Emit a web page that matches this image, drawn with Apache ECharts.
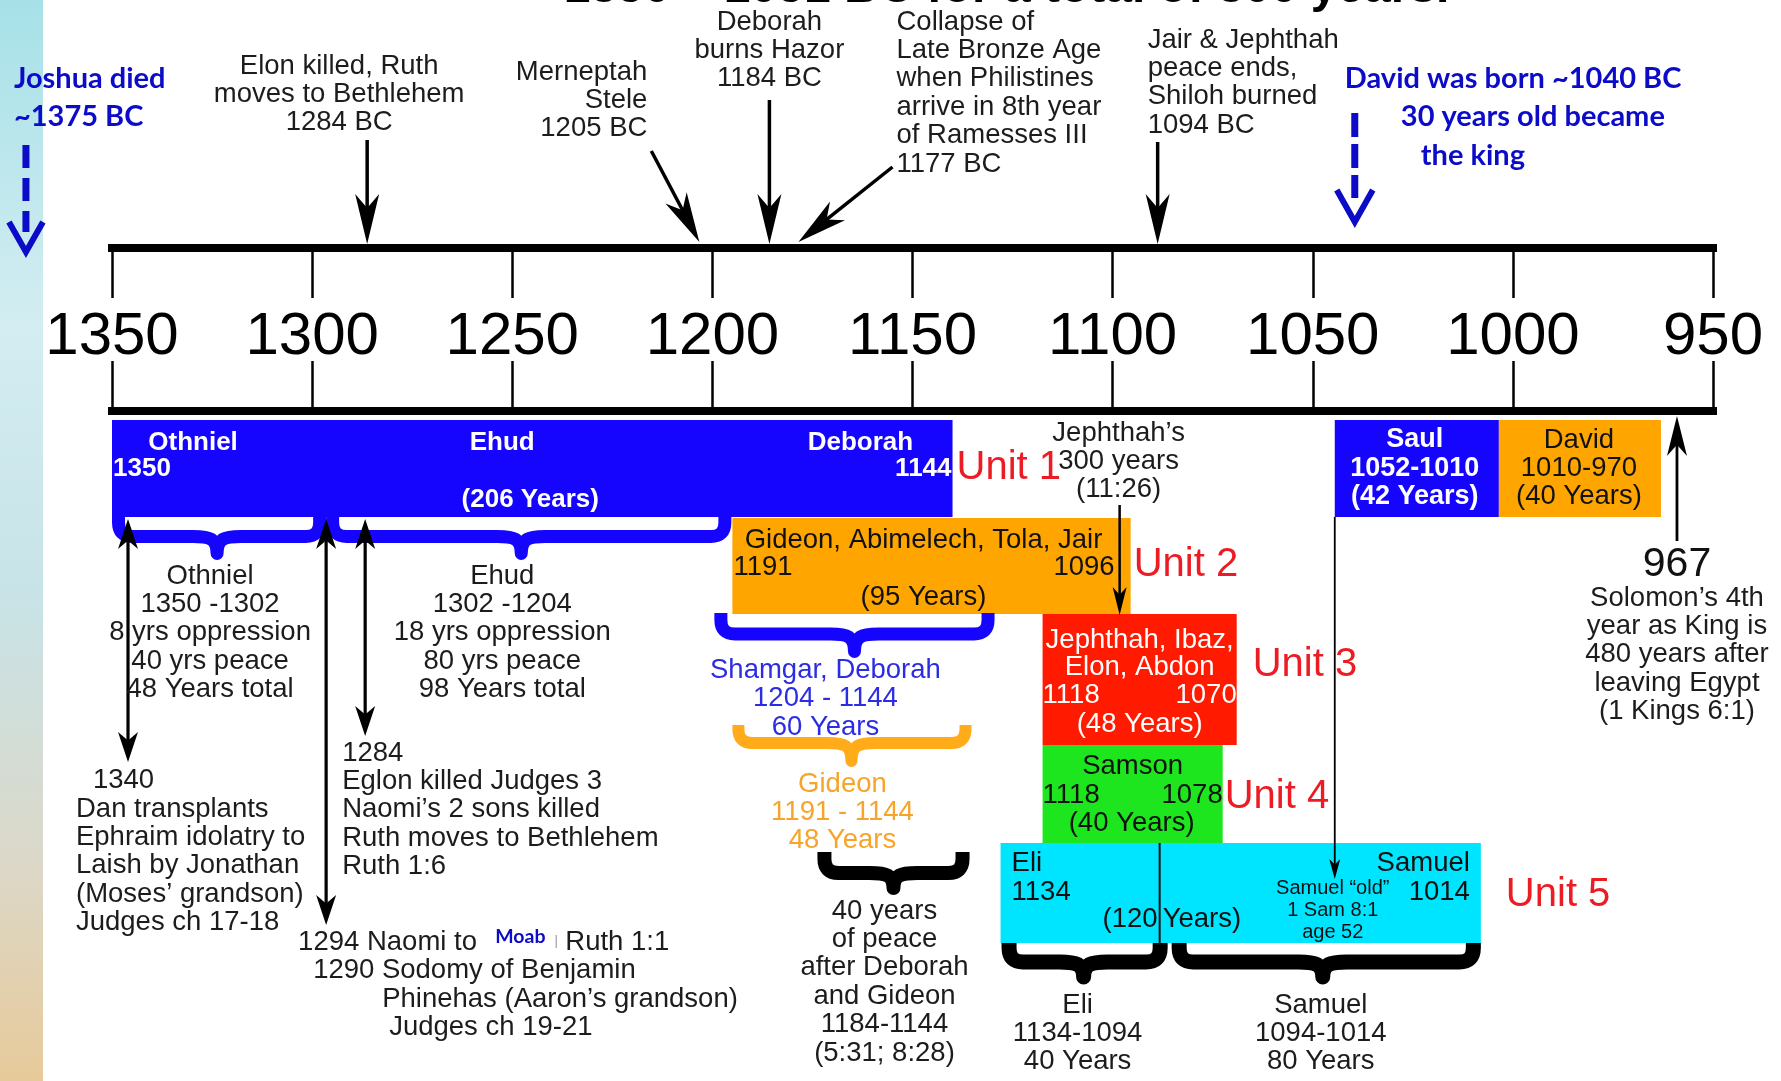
<!DOCTYPE html>
<html>
<head>
<meta charset="utf-8">
<script src="https://cdn.jsdelivr.net/npm/echarts@6/dist/echarts.min.js"></script>
<style>
html,body{margin:0;padding:0;background:#ffffff;}
#main{width:1781px;height:1081px;}
</style>
</head>
<body>
<div id="main"></div>
<script>
// ================= DATA (years BC) =================
const tickYears = [1350, 1300, 1250, 1200, 1150, 1100, 1050, 1000, 950];
const titleText = '1350 – 1051 BC for a total of 300 years.';

// period blocks, as drawn on the timeline
const blockNames = ['Othniel / Ehud / Deborah', 'Gideon, Abimelech, Tola, Jair', 'Jephthah, Ibaz, Elon, Abdon', 'Samson', 'Eli / Samuel', 'Saul', 'David'];
const blockFrom  = [1350, 1195, 1117.5, 1117.5, 1128, 1044.5, 1003.5];
const blockTo    = [1140, 1095.5, 1069, 1072.5, 1008, 1003.5, 963];

const blockLabelText = [
  'Othniel', '1350', 'Ehud', '(206 Years)', 'Deborah', '1144',
  'Gideon, Abimelech, Tola, Jair', '1191', '1096', '(95 Years)',
  'Jephthah, Ibaz,\nElon, Abdon', '1118', '1070', '(48 Years)',
  'Samson', '1118', '1078', '(40 Years)',
  'Eli\n1134', '(120', 'Years)', 'Samuel\n1014', 'Samuel “old”\n1 Sam 8:1\nage 52',
  'Saul\n1052-1010\n(42 Years)', 'David\n1010-970\n(40 Years)'
];
const blockLabelYear = [
  1329.75, 1349.75, 1252.5, 1245.5, 1163, 1140.25,
  1147.25, 1194.75, 1099.5, 1147.25,
  1093.25, 1117.5, 1069, 1093.25,
  1095, 1117.5, 1072.5, 1095.25,
  1125.25, 1088.75, 1087.5, 1010.75, 1045,
  1024.5, 983.5
];

const unitText = ['Unit 1', 'Unit 2', 'Unit 3', 'Unit 4', 'Unit 5'];
const unitYear = [1139, 1094.75, 1065, 1072, 1001.75];

// braces (span and tip, years)
const braceNames = ['Othniel', 'Ehud', 'Shamgar, Deborah', 'Gideon', '40 years of peace', 'Eli', 'Samuel'];
const braceFrom  = [1350, 1296.5, 1199.5, 1195, 1173.75, 1127.75, 1085.25];
const braceTo    = [1296.5, 1195.25, 1129.5, 1135.25, 1135.75, 1086.25, 1008];
const braceTip   = [1323.75, 1247.75, 1164.5, 1165.25, 1154.75, 1107.25, 1047.5];
const braceLabelText = [
  'Othniel\n1350 -1302\n8 yrs oppression\n40 yrs peace\n48 Years total',
  'Ehud\n1302 -1204\n18 yrs oppression\n80 yrs peace\n98 Years total',
  'Shamgar, Deborah\n1204 - 1144\n60 Years',
  'Gideon\n1191 - 1144\n48 Years',
  '40 years\nof peace\nafter Deborah\nand Gideon\n1184-1144\n(5:31; 8:28)',
  'Eli\n1134-1094\n40 Years',
  'Samuel\n1094-1014\n80 Years'
];
const braceLabelYear = [1325.5, 1252.5, 1171.75, 1167.5, 1157, 1108.75, 1048];

// event notes
const eventText = [
  'Elon killed, Ruth\nmoves to Bethlehem\n1284 BC',
  'Merneptah\nStele\n1205 BC',
  'Deborah\nburns Hazor\n1184 BC',
  'Collapse of\nLate Bronze Age\nwhen Philistines\narrive in 8th year\nof Ramesses III\n1177 BC',
  'Jair & Jephthah\npeace ends,\nShiloh burned\n1094 BC',
  'Jephthah’s\n300 years\n(11:26)',
  '967',
  'Solomon’s 4th\nyear as King is\n480 years after\nleaving Egypt\n(1 Kings 6:1)',
  '1340',
  'Dan transplants\nEphraim idolatry to\nLaish by Jonathan\n(Moses’ grandson)\nJudges ch 17-18',
  '1284\nEglon killed Judges 3\nNaomi’s 2 sons killed\nRuth moves to Bethlehem\nRuth 1:6',
  '1294 Naomi to',
  'Moab',
  'Ruth 1:1',
  '1290 Sodomy of Benjamin',
  'Phinehas (Aaron’s grandson)',
  'Judges ch 19-21'
];
const eventYear = [1293.25, 1216.25, 1185.75, 1154, 1091.25, 1098.5, 959, 959, 1354.75, 1359, 1292.5, 1303.5, 1254.25, 1236.75, 1299.75, 1282.5, 1280.75];

// arrows (tail year -> head year)
const arrowNames = ['Elon', 'Merneptah', 'Hazor', 'Bronze Age collapse', 'Shiloh', '1340', '1294', '1284', 'Jephthah 300 years', 'Saul / Samuel old', '967'];
const arrowFrom = [1286.25, 1215.25, 1185.75, 1155, 1088.75, 1346, 1296.5, 1286.75, 1098.25, 1044.5, 959];
const arrowTo   = [1286.25, 1203.25, 1185.75, 1178.5, 1088.75, 1346, 1296.5, 1286.75, 1098.25, 1044.5, 959];

// dashed blue markers
const markerText = ['Joshua died', '~1375 BC', 'David was born ~1040 BC', '30 years old became', 'the king'];
const markerTextYear = [1374.5, 1374.5, 1042, 1028, 1023];
const markerYear = [1371.5, 1039.5];

// thin rules
const ruleYear = [1088.25, 1239];

// ================= LAYOUT / STYLE =================
const FONT = '"Liberation Sans", Arial, Helvetica, sans-serif';
const CAL = 'Lato, "Open Sans", sans-serif';
const S = {
  n:    {size: 27.5, weight: 'normal', color: '#1c1c1c', lh: 28.4, fam: FONT},
  k:    {size: 27.5, weight: 'normal', color: '#111111', lh: 28.4, fam: FONT},
  k29:  {size: 27.5, weight: 'normal', color: '#111111', lh: 29, fam: FONT},
  w:    {size: 26, weight: 'bold', color: '#ffffff', lh: 28, fam: FONT},
  wb:   {size: 27, weight: 'bold', color: '#ffffff', lh: 28.5, fam: FONT},
  wr:   {size: 27.5, weight: 'normal', color: '#ffffff', lh: 27.5, fam: FONT},
  u:    {size: 40, weight: 'normal', color: '#ec1c24', lh: 44, fam: FONT},
  bl:   {size: 27.5, weight: 'normal', color: '#2c2ce4', lh: 28.5, fam: FONT},
  or:   {size: 27.5, weight: 'normal', color: '#f6a42a', lh: 28, fam: FONT},
  ann:  {size: 29, weight: 'bold', color: '#0b0bc8', lh: 34, fam: CAL},
  moab: {size: 19.5, weight: 'bold', color: '#0b0bc8', lh: 22, fam: CAL},
  sm:   {size: 20, weight: 'normal', color: '#111111', lh: 22, fam: FONT},
  big:  {size: 41, weight: 'normal', color: '#111111', lh: 44, fam: FONT},
  title:{size: 48, weight: 'bold', color: '#000000', lh: 48, fam: FONT}
};

const blockLayout = [
  {top: 420, bottom: 517, fill: '#1505ff'},
  {top: 518, bottom: 614, fill: '#ffa500'},
  {top: 614, bottom: 745, fill: '#ff1a00'},
  {top: 745, bottom: 843, fill: '#1ee61e'},
  {top: 843, bottom: 943, fill: '#00e5ff'},
  {top: 420, bottom: 517, fill: '#1505ff'},
  {top: 420, bottom: 517, fill: '#ffa500'}
];
const blockLabelLayout = [
  [443,'center','w'], [469,'left','w'], [443,'center','w'], [500,'center','w'], [443,'center','w'], [469,'right','w'],
  [540,'center','k'], [567,'left','k'], [567,'right','k'], [597,'center','k'],
  [640,'center','wr'], [695,'left','wr'], [695,'right','wr'], [724,'center','wr'],
  [766,'center','k'], [795,'left','k'], [795,'right','k'], [823,'center','k'],
  [863,'left','k29'], [919,'right','k'], [919,'left','k'], [863,'right','k29'], [888,'center','sm'],
  [440,'center','wb'], [440,'center','k']
];
const unitLayout = [[468,'left','u'], [565,'left','u'], [665,'left','u'], [797,'left','u'], [895,'left','u']];
const braceLayout = [
  {y0: 517, yh: 536.5, yt: 553.5, w: 13, color: '#1505ff'},
  {y0: 517, yh: 536.5, yt: 553.5, w: 13, color: '#1505ff'},
  {y0: 613, yh: 634, yt: 651.5, w: 13, color: '#1505ff'},
  {y0: 725, yh: 743, yt: 761, w: 12, color: '#ffab1a'},
  {y0: 852, yh: 873, yt: 888, w: 14, color: '#000000'},
  {y0: 943, yh: 962, yt: 977, w: 15, color: '#000000'},
  {y0: 943, yh: 962, yt: 977, w: 15, color: '#000000'}
];
const braceLabelLayout = [[576,'center','n'], [576,'center','n'], [670,'center','bl'], [784,'center','or'], [911,'center','n'], [1005,'center','n'], [1005,'center','n']];
const eventLayout = [
  [66,'center','n'], [72,'right','n'], [22,'center','n'], [22,'left','n'], [40,'left','n'],
  [433,'center','n'], [565,'center','big'], [598,'center','n'], [780,'left','n'], [809,'left','n'],
  [753,'left','n'], [942,'left','n'], [937,'left','moab'], [942,'left','n'], [970,'left','n'], [999,'left','n'], [1027,'left','n']
];
const markerTextLayout = [[79,'left','ann'], [117,'left','ann'], [79,'left','ann'], [117,'left','ann'], [156,'left','ann']];
// [yTail, yHead, headLen, headHalfWidth, shaftWidth, doubleHeaded]
const arrowLayout = [
  [140, 244, 50, 12, 3.5, false], [151, 242, 50, 12, 3.5, false], [100, 244, 50, 12, 3.5, false],
  [167, 242, 50, 12, 3.5, false], [142, 244, 50, 12, 3.5, false],
  [762, 519, 30, 10, 3.2, true], [925, 519, 30, 10, 3.2, true], [736, 519, 30, 10, 3.2, true],
  [505, 615, 28, 7, 2.5, false], [517, 879, 20, 5.5, 1.8, false], [541, 416, 40, 10, 2.8, false]
];
const markerLayout = [
  {top: 145, bottom: 232, dash: [23, 10], chevTop: 222, tip: 252, half: 17},
  {top: 113, bottom: 198, dash: [24, 7], chevTop: 190, tip: 222, half: 18}
];
const ruleLayout = [
  {y1: 843, y2: 945, w: 2, color: '#111111'},
  {y1: 935, y2: 948, w: 1.5, color: '#b0b0b0'}
];

// ================= BUILD =================
const labels = [];
function addLabels(texts, years, layout) {
  texts.forEach((t, i) => labels.push({text: t, year: years[i], y: layout[i][0], align: layout[i][1], style: layout[i][2]}));
}
addLabels([titleText], [1126.5], [[-11, 'center', 'title']]);
addLabels(eventText, eventYear, eventLayout);
addLabels(markerText, markerTextYear, markerTextLayout);
addLabels(blockLabelText, blockLabelYear, blockLabelLayout);
addLabels(unitText, unitYear, unitLayout);
addLabels(braceLabelText, braceLabelYear, braceLabelLayout);

const yrMin = Math.min(...tickYears), yrMax = Math.max(...tickYears);
const yrStep = tickYears[0] - tickYears[1];

function renderBlock(params, api) {
  const i = params.dataIndex, L = blockLayout[i];
  const a = api.coord([blockFrom[i], L.top]);
  const b = api.coord([blockTo[i], L.bottom]);
  return {type: 'rect', shape: {x: a[0], y: a[1], width: b[0] - a[0], height: b[1] - a[1]}, style: {fill: L.fill}};
}

function renderBrace(params, api) {
  const i = params.dataIndex, L = braceLayout[i];
  const xl = api.coord([braceFrom[i], L.y0])[0];
  const xr = api.coord([braceTo[i], L.y0])[0];
  const xt = api.coord([braceTip[i], L.y0])[0];
  const y0 = api.coord([braceFrom[i], L.y0])[1];
  const yh = api.coord([braceFrom[i], L.yh])[1];
  const yt = api.coord([braceFrom[i], L.yt])[1];
  const w = L.w, r = Math.min(14, yh - y0), s = 24;
  const Lx = xl + w / 2, Rx = xr - w / 2;
  const d = `M${Lx},${y0} L${Lx},${yh - r} Q${Lx},${yh} ${Lx + r},${yh} L${xt - s},${yh} ` +
            `C${xt - 0.3 * s},${yh} ${xt},${yh + 2} ${xt},${yt} ` +
            `C${xt},${yh + 2} ${xt + 0.3 * s},${yh} ${xt + s},${yh} ` +
            `L${Rx - r},${yh} Q${Rx},${yh} ${Rx},${yh - r} L${Rx},${y0}`;
  return {type: 'path', shape: {pathData: d}, style: {stroke: L.color, lineWidth: w, fill: 'none', lineJoin: 'round', lineCap: 'butt'}};
}

function headPoly(tip, ux, uy, len, half, color) {
  const px = -uy, py = ux;
  return {type: 'polygon', shape: {points: [
    [tip[0], tip[1]],
    [tip[0] - ux * len + px * half, tip[1] - uy * len + py * half],
    [tip[0] - ux * len * 0.72, tip[1] - uy * len * 0.72],
    [tip[0] - ux * len - px * half, tip[1] - uy * len - py * half]
  ]}, style: {fill: color}};
}

function renderArrow(params, api) {
  const i = params.dataIndex, L = arrowLayout[i];
  const a = api.coord([arrowFrom[i], L[0]]);
  const b = api.coord([arrowTo[i], L[1]]);
  const dx = b[0] - a[0], dy = b[1] - a[1], len = Math.hypot(dx, dy);
  const ux = dx / len, uy = dy / len;
  const color = '#000000';
  const start = L[5] ? [a[0] + ux * L[2] * 0.7, a[1] + uy * L[2] * 0.7] : a;
  const end = [b[0] - ux * L[2] * 0.7, b[1] - uy * L[2] * 0.7];
  const children = [
    {type: 'line', shape: {x1: start[0], y1: start[1], x2: end[0], y2: end[1]}, style: {stroke: color, lineWidth: L[4]}},
    headPoly(b, ux, uy, L[2], L[3], color)
  ];
  if (L[5]) children.push(headPoly(a, -ux, -uy, L[2], L[3], color));
  return {type: 'group', children: children};
}

function renderMarker(params, api) {
  const i = params.dataIndex, L = markerLayout[i];
  const P = (y) => api.coord([markerYear[i], y]);
  const t = P(L.top), b = P(L.bottom), c = P(L.chevTop), tp = P(L.tip);
  const color = '#0b0bc8';
  return {type: 'group', children: [
    {type: 'line', shape: {x1: t[0], y1: t[1], x2: b[0], y2: b[1]}, style: {stroke: color, lineWidth: 7, lineDash: L.dash, lineCap: 'butt'}},
    {type: 'polyline', shape: {points: [[c[0] - L.half, c[1]], [tp[0], tp[1]], [c[0] + L.half, c[1]]]}, style: {stroke: color, lineWidth: 6, fill: 'none', lineJoin: 'miter'}}
  ]};
}

function renderRule(params, api) {
  const i = params.dataIndex, L = ruleLayout[i];
  const a = api.coord([ruleYear[i], L.y1]), b = api.coord([ruleYear[i], L.y2]);
  return {type: 'line', shape: {x1: a[0], y1: a[1], x2: b[0], y2: b[1]}, style: {stroke: L.color, lineWidth: L.w}};
}

function renderLabel(params, api) {
  const L = labels[params.dataIndex];
  const st = S[L.style];
  const p = api.coord([L.year, L.y]);
  return {
    type: 'text', x: p[0], y: p[1] - st.lh / 2,
    style: {
      text: L.text, x: 0, y: 0, fill: st.color,
      fontSize: st.size, fontFamily: st.fam, fontWeight: st.weight,
      align: L.align, verticalAlign: 'top', textAlign: L.align, textVerticalAlign: 'top',
      lineHeight: st.lh
    }
  };
}

const axisCommon = {
  type: 'value', gridIndex: 0, inverse: true, min: yrMin, max: yrMax, interval: yrStep,
  axisLine: {show: true, onZero: false, lineStyle: {color: '#000000', width: 8, cap: 'square'}},
  axisTick: {show: true, inside: true, length: 50, lineStyle: {color: '#000000', width: 2.5}},
  splitLine: {show: false}
};

const customBase = {type: 'custom', xAxisIndex: 2, yAxisIndex: 1, clip: false, silent: true};

const option = {
  backgroundColor: '#ffffff',
  animation: false,
  graphic: [{
    type: 'rect', left: 0, top: 0, z: 0, silent: true,
    shape: {x: 0, y: 0, width: 43, height: 1081},
    style: {fill: {type: 'linear', x: 0, y: 0, x2: 0, y2: 1, colorStops: [
      {offset: 0, color: '#a6e1e7'}, {offset: 0.3, color: '#d3edf2'}, {offset: 0.55, color: '#c8e3e7'},
      {offset: 0.8, color: '#dcd8c8'}, {offset: 1, color: '#e7ca9a'}]}}
  }],
  grid: [
    {left: 112, right: 68, top: 248, height: 163},
    {left: 112, right: 68, top: 0, bottom: 0}
  ],
  xAxis: [
    Object.assign({}, axisCommon, {position: 'top',
      axisLabel: {show: true, inside: true, margin: 89, verticalAlign: 'middle', fontSize: 60, fontFamily: FONT, color: '#000000',
        showMinLabel: true, showMaxLabel: true, formatter: (v) => String(v)}}),
    Object.assign({}, axisCommon, {position: 'bottom', axisLabel: {show: false}}),
    {type: 'value', gridIndex: 1, inverse: true, min: yrMin, max: yrMax, show: false}
  ],
  yAxis: [
    {type: 'value', gridIndex: 0, min: 0, max: 1, show: false},
    {type: 'value', gridIndex: 1, min: 0, max: 1081, inverse: true, show: false}
  ],
  series: [
    Object.assign({}, customBase, {name: 'blocks', z: 2, data: blockFrom.map((v, i) => [v, blockTo[i]]), renderItem: renderBlock}),
    Object.assign({}, customBase, {name: 'braces', z: 3, data: braceFrom.map((v, i) => [v, braceTo[i]]), renderItem: renderBrace}),
    Object.assign({}, customBase, {name: 'rules', z: 4, data: ruleYear.map((v) => [v, 0]), renderItem: renderRule}),
    Object.assign({}, customBase, {name: 'arrows', z: 5, data: arrowFrom.map((v, i) => [v, arrowTo[i]]), renderItem: renderArrow}),
    Object.assign({}, customBase, {name: 'markers', z: 5, data: markerYear.map((v) => [v, 0]), renderItem: renderMarker}),
    Object.assign({}, customBase, {name: 'labels', z: 6, data: labels.map((l) => [l.year, l.y]), renderItem: renderLabel})
  ]
};

const chart = echarts.init(document.getElementById('main'), null, {renderer: 'canvas', width: 1781, height: 1081});
chart.setOption(option);
</script>
</body>
</html>
